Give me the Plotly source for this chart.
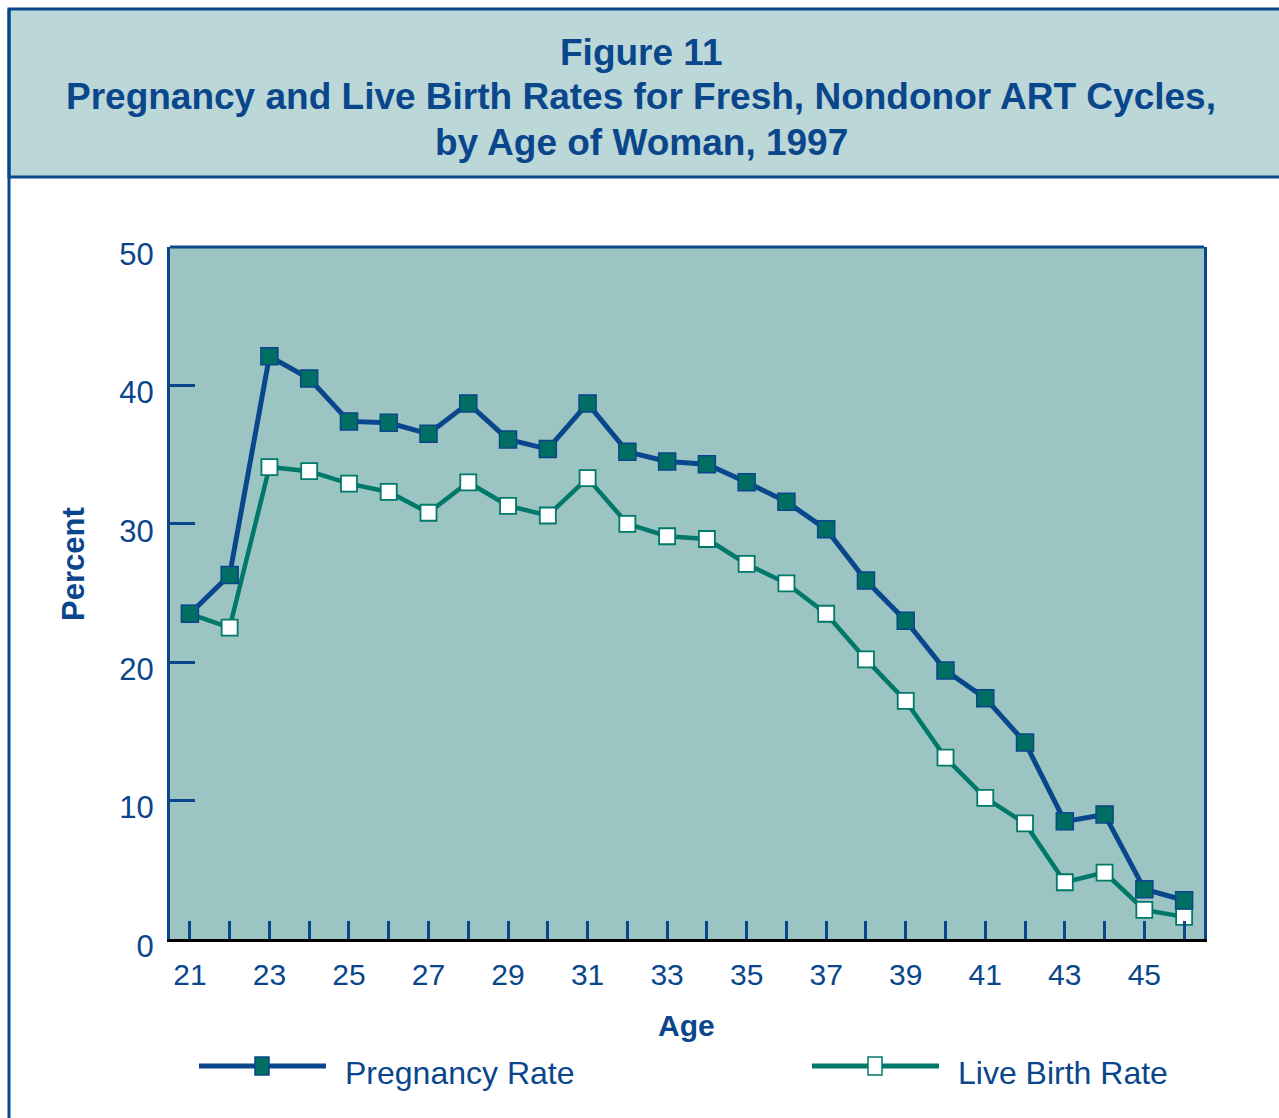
import plotly.graph_objects as go

ages = list(range(21, 47))
pregnancy_rate = [23.5, 26.3, 42.1, 40.5, 37.4, 37.3, 36.5, 38.7, 36.1, 35.4, 38.7, 35.2,
                  34.5, 34.3, 33.0, 31.6, 29.6, 25.9, 23.0, 19.4, 17.4, 14.2, 8.5, 9.0, 3.6, 2.8]
live_birth_rate = [23.5, 22.5, 34.1, 33.8, 32.9, 32.3, 30.8, 33.0, 31.3, 30.6, 33.3, 30.0,
                   29.1, 28.9, 27.1, 25.7, 23.5, 20.2, 17.2, 13.1, 10.2, 8.35, 4.1, 4.8, 2.1, 1.6]
y_ticks = [0, 10, 20, 30, 40, 50]
x_tick_text = [str(a) if a % 2 == 1 else "" for a in ages]

W, H = 1279, 1118
L, R, T, B = 170, 1204, 247, 939
BLUE = "#0a468c"
TEAL = "#00786a"
MTEAL = "#006e62"
PLOTBG = "#9bc4c2"
TITLEBG = "#bcd7d7"
FONT = "Liberation Sans"


def px(x):
    return (x - L) / (R - L)


def py(y):
    return (B - y) / (B - T)


fig = go.Figure()
fig.add_trace(go.Scatter(
    x=ages, y=live_birth_rate, mode="lines+markers", name="Live Birth Rate",
    line=dict(color=TEAL, width=4.5),
    marker=dict(symbol="square", size=16, color="white", line=dict(color=TEAL, width=1.8)),
))
fig.add_trace(go.Scatter(
    x=ages, y=pregnancy_rate, mode="lines+markers", name="Pregnancy Rate",
    line=dict(color=BLUE, width=5),
    marker=dict(symbol="square", size=17, color=MTEAL, line=dict(color=BLUE, width=1.5)),
))

shapes = []
# title box
shapes.append(dict(type="rect", xref="paper", yref="paper", x0=px(9), x1=px(1290), y0=py(177), y1=py(9),
                   fillcolor=TITLEBG, line=dict(color=BLUE, width=3), layer="below"))
# outer left frame line
shapes.append(dict(type="line", xref="paper", yref="paper", x0=px(9), x1=px(9), y0=py(1125), y1=py(9),
                   line=dict(color=BLUE, width=3)))
# plot top border
shapes.append(dict(type="line", xref="paper", yref="paper", x0=0, x1=1, y0=1, y1=1,
                   line=dict(color=BLUE, width=3), layer="above"))
# legend lines
shapes.append(dict(type="line", xref="paper", yref="paper", x0=px(199), x1=px(326), y0=py(1066), y1=py(1066),
                   line=dict(color=BLUE, width=5)))
shapes.append(dict(type="line", xref="paper", yref="paper", x0=px(812), x1=px(939), y0=py(1066), y1=py(1066),
                   line=dict(color=TEAL, width=5)))
shapes.append(dict(type="rect", xref="paper", yref="paper", x0=px(255), x1=px(269), y0=py(1075), y1=py(1057),
                   fillcolor=MTEAL, line=dict(color=BLUE, width=1.5)))
shapes.append(dict(type="rect", xref="paper", yref="paper", x0=px(868), x1=px(882), y0=py(1075), y1=py(1057),
                   fillcolor="white", line=dict(color=TEAL, width=1.5)))

annotations = []
title_lines = ["Figure 11", "Pregnancy and Live Birth Rates for Fresh, Nondonor ART Cycles,",
               "by Age of Woman, 1997"]
for txt, yc in zip(title_lines, [52, 97, 142]):
    annotations.append(dict(text=txt, xref="paper", yref="paper", x=px(641), y=py(yc),
                            xanchor="center", yanchor="middle", showarrow=False,
                            font=dict(family=FONT, size=37, color=BLUE, weight="bold")))
annotations.append(dict(text="Age", xref="paper", yref="paper", x=px(686), y=py(1025),
                        xanchor="center", yanchor="middle", showarrow=False,
                        font=dict(family=FONT, size=30, color=BLUE, weight="bold")))
annotations.append(dict(text="Percent", xref="paper", yref="paper", x=px(73), y=py(564),
                        xanchor="center", yanchor="middle", showarrow=False, textangle=-90,
                        font=dict(family=FONT, size=31, color=BLUE, weight="bold")))
annotations.append(dict(text="Pregnancy Rate", xref="paper", yref="paper", x=px(343), y=py(1073),
                        xanchor="left", yanchor="middle", showarrow=False,
                        font=dict(family=FONT, size=32, color=BLUE)))
annotations.append(dict(text="Live Birth Rate", xref="paper", yref="paper", x=px(956), y=py(1073),
                        xanchor="left", yanchor="middle", showarrow=False,
                        font=dict(family=FONT, size=32, color=BLUE)))

fig.update_layout(
    width=W, height=H,
    margin=dict(l=L, r=W - R, t=T, b=H - B, pad=0),
    paper_bgcolor="white", plot_bgcolor=PLOTBG,
    showlegend=False,
    shapes=shapes, annotations=annotations,
    xaxis=dict(range=[20.5, 46.5], tickmode="array", tickvals=ages, ticktext=x_tick_text,
               ticks="inside", ticklen=18, tickwidth=2.5, tickcolor=BLUE,
               showline=True, linecolor="black", linewidth=3, showgrid=False, zeroline=False,
               tickfont=dict(family=FONT, size=30, color=BLUE), ticklabelstandoff=7),
    yaxis=dict(range=[0, 50], tickmode="array", tickvals=y_ticks,
               ticks="inside", ticklen=25, tickwidth=2.5, tickcolor=BLUE,
               showline=True, linecolor=BLUE, linewidth=3, mirror=True, showgrid=False, zeroline=False,
               tickfont=dict(family=FONT, size=31, color=BLUE), ticklabelstandoff=7,
               ticklabelshift=7),
)

fig.write_html("out.html", config={"displayModeBar": False},
               post_script="document.body.style.margin='0';document.body.style.padding='0';")
